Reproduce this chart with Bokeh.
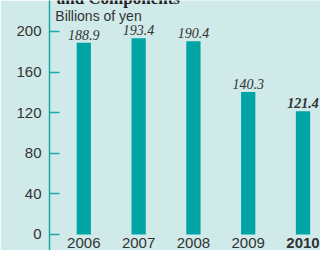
from bokeh.plotting import figure
from bokeh.models import ColumnDataSource, Range1d, FixedTicker
from bokeh.core.properties import value
from bokeh.embed import file_html
from bokeh.resources import INLINE

# ---- data ----
years = ["2006", "2007", "2008", "2009", "2010"]
values = [188.9, 193.4, 190.4, 140.3, 121.4]
value_labels = ["188.9", "193.4", "190.4", "140.3", "121.4"]
y_ticks = [0, 40, 80, 120, 160, 200]
title_text = "and Components"
unit_text = "Billions of yen"

BG = "#d0eaea"
BAR = "#00a4a4"
AXIS = "#1aa9a9"
TXT = "#333333"

xs = list(range(len(years)))
styles = ["normal"] * (len(years) - 1) + ["bold"]
vstyles = ["italic"] * (len(years) - 1) + ["bold italic"]

src = ColumnDataSource(dict(x=xs, v=values, lab=value_labels, yr=years,
                            zero=[0] * len(xs), st=styles, vst=vstyles))

p = figure(width=320, height=250, output_backend="svg", toolbar_location=None,
           x_range=Range1d(-0.626, 4.319), y_range=Range1d(-15.8, 230.5),
           x_axis_location=None, min_border_left=49, min_border_right=0,
           min_border_top=0, min_border_bottom=0)
p.background_fill_color = BG
p.border_fill_color = BG
p.outline_line_color = None
p.grid.visible = False

ax = p.yaxis[0]
ax.ticker = FixedTicker(ticks=y_ticks)
ax.axis_line_color = AXIS
ax.axis_line_width = 1.5
ax.major_tick_line_color = AXIS
ax.major_tick_line_width = 1.5
ax.major_tick_in = 10
ax.major_tick_out = 0
ax.minor_tick_line_color = None
ax.major_label_standoff = 8
ax.major_label_text_font = "Liberation Sans"
ax.major_label_text_font_size = "15px"
ax.major_label_text_color = TXT

p.vbar(x="x", top="v", bottom=0, width=0.26, source=src, color=BAR, line_color=None)

p.text(x="x", y="v", text="lab", source=src, text_font=value("Liberation Serif"),
       text_font_style="vst", text_font_size="14px", text_color=TXT,
       text_align="center", text_baseline="middle", y_offset=-8)

p.text(x="x", y="zero", text="yr", source=src, text_font=value("Liberation Sans"),
       text_font_style="st", text_font_size="15px", text_color=TXT,
       text_align="center", text_baseline="middle", y_offset=9)

p.text(x=[-0.520], y=[215.0], text=[unit_text], text_font=value("Liberation Sans"),
       text_font_size="14px", text_color=TXT, text_align="left",
       text_baseline="middle")

p.text(x=[-0.495], y=[223.2], text=[title_text], text_font=value("Liberation Serif"),
       text_font_style="bold", text_font_size="17px", text_color="#222222",
       text_align="left", text_baseline="bottom")

open("out.html", "w").write(file_html(p, INLINE))
